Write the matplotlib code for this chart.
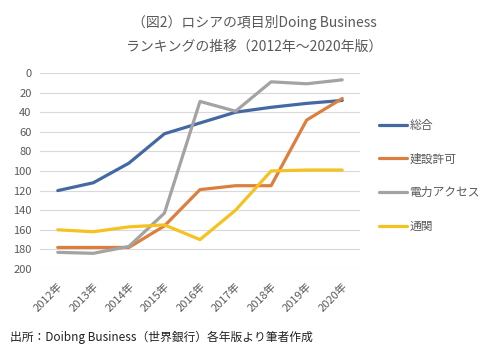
import matplotlib
matplotlib.use('Agg')
from matplotlib import pyplot as plt

plt.rcParams['font.family'] = ['Noto Sans CJK JP', 'DejaVu Sans']

years = ['2012年', '2013年', '2014年', '2015年', '2016年', '2017年', '2018年', '2019年', '2020年']
sogo = [120, 112, 92, 62, 51, 40, 35, 31, 28]
kensetsu = [178, 178, 178, 156, 119, 115, 115, 48, 26]
denryoku = [183, 184, 177, 143, 29, 39, 9, 11, 7]
tsukan = [160, 162, 157, 155, 170, 140, 100, 99, 99]

names = ['総合', '建設許可', '電力アクセス', '通関']
colors = ['#4468A3', '#DC7F3E', '#A3A3A3', '#F5C222']
gray = '#595959'

fig = plt.figure(figsize=(4.94, 3.55), dpi=100)
ax = fig.add_axes([40/494, 1-269/355, 320/494, 196/355])

x = range(len(years))
for s, c, n in zip([sogo, kensetsu, denryoku, tsukan], colors, names):
    ax.plot(x, s, color=c, lw=2.3, label=n, solid_capstyle='round')

ax.set_xlim(-0.5, len(years) - 0.5)
ax.set_ylim(200, 0)
ax.set_yticks(range(0, 201, 20))
ax.grid(axis='y', color='#D9D9D9', lw=0.8)
ax.set_axisbelow(True)
for sp in ax.spines.values():
    sp.set_visible(False)
ax.tick_params(length=0, colors=gray, labelsize=8)
ax.tick_params(axis='y', pad=6)
ax.tick_params(axis='x', pad=9)
ax.set_xticks(list(x))
ax.set_xticklabels(years, rotation=45, ha='right', rotation_mode='anchor')

fig.legend(loc='center left', bbox_to_anchor=(0.755, 0.505), frameon=False,
           fontsize=8.5, labelspacing=1.75, handlelength=2.4, handletextpad=0.2,
           labelcolor=gray, borderpad=0)

fig.text(0.515, 1-22/355, '（図2）ロシアの項目別Doing Business', ha='center', va='center',
         fontsize=10, color=gray)
fig.text(0.515, 1-47/355, 'ランキングの推移（2012年～2020年版）', ha='center', va='center',
         fontsize=10, color=gray)
fig.text(10/494, 1-337/355, '出所：Doibng Business（世界銀行）各年版より筆者作成',
         ha='left', va='center', fontsize=8.5, color='#222222')

fig.savefig('out.png', dpi=100)
